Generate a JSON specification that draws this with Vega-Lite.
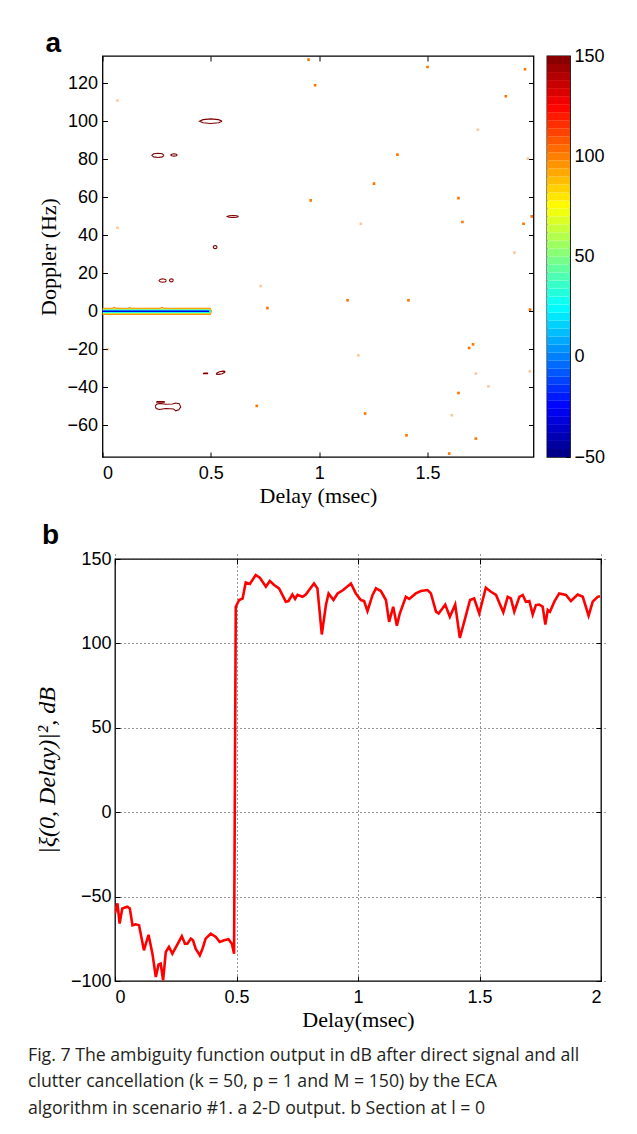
{
  "$schema": "https://vega.github.io/schema/vega-lite/v6.json",
  "background": "white",
  "padding": {"left": 25, "top": 28, "right": 5, "bottom": 5},
  "spacing": 14,
  "title": {
    "text": [
      "Fig. 7 The ambiguity function output in dB after direct signal and all",
      "clutter cancellation (k = 50, p = 1 and M = 150) by the ECA",
      "algorithm in scenario #1. a 2-D output. b Section at l = 0"
    ],
    "orient": "bottom",
    "anchor": "start",
    "frame": "bounds",
    "font": "Open Sans",
    "fontSize": 17.7,
    "fontWeight": "normal",
    "lineHeight": 26.5,
    "color": "#231f20",
    "offset": 16,
    "dx": 3
  },
  "datasets": {
    "spacer": [{"s": 0}],
    "band": [
      {"id": "b100", "i": 0, "delay": 0, "doppler": 1.5, "level": 100},
      {"id": "b100", "i": 1, "delay": 0.045, "doppler": 1.5, "level": 100},
      {"id": "b100", "i": 2, "delay": 0.055, "doppler": 2.0, "level": 100},
      {"id": "b100", "i": 3, "delay": 0.065, "doppler": 1.5, "level": 100},
      {"id": "b100", "i": 4, "delay": 0.115, "doppler": 1.5, "level": 100},
      {"id": "b100", "i": 5, "delay": 0.125, "doppler": 1.9, "level": 100},
      {"id": "b100", "i": 6, "delay": 0.135, "doppler": 1.5, "level": 100},
      {"id": "b100", "i": 7, "delay": 0.265, "doppler": 1.5, "level": 100},
      {"id": "b100", "i": 8, "delay": 0.275, "doppler": 2.1, "level": 100},
      {"id": "b100", "i": 9, "delay": 0.285, "doppler": 1.5, "level": 100},
      {"id": "b100", "i": 10, "delay": 0.497, "doppler": 1.5, "level": 100},
      {"id": "b100", "i": 11, "delay": 0.503, "doppler": 0, "level": 100},
      {"id": "b100", "i": 12, "delay": 0.497, "doppler": -1.6, "level": 100},
      {"id": "b100", "i": 13, "delay": 0, "doppler": -1.6, "level": 100},
      {"id": "b85", "i": 0, "delay": 0, "doppler": 1.15, "level": 85},
      {"id": "b85", "i": 1, "delay": 0.495, "doppler": 1.15, "level": 85},
      {"id": "b85", "i": 2, "delay": 0.5, "doppler": 0, "level": 85},
      {"id": "b85", "i": 3, "delay": 0.495, "doppler": -1.2, "level": 85},
      {"id": "b85", "i": 4, "delay": 0, "doppler": -1.2, "level": 85},
      {"id": "b50", "i": 0, "delay": 0, "doppler": 0.8, "level": 50},
      {"id": "b50", "i": 1, "delay": 0.494, "doppler": 0.8, "level": 50},
      {"id": "b50", "i": 2, "delay": 0.499, "doppler": 0, "level": 50},
      {"id": "b50", "i": 3, "delay": 0.494, "doppler": -0.85, "level": 50},
      {"id": "b50", "i": 4, "delay": 0, "doppler": -0.85, "level": 50},
      {"id": "b25", "i": 0, "delay": 0, "doppler": 0.45, "level": 25},
      {"id": "b25", "i": 1, "delay": 0.493, "doppler": 0.45, "level": 25},
      {"id": "b25", "i": 2, "delay": 0.498, "doppler": 0, "level": 25},
      {"id": "b25", "i": 3, "delay": 0.493, "doppler": -0.5, "level": 25},
      {"id": "b25", "i": 4, "delay": 0, "doppler": -0.5, "level": 25},
      {"id": "bm30", "i": 0, "delay": 0, "doppler": 0.05, "level": -30},
      {"id": "bm30", "i": 1, "delay": 0.49, "doppler": 0.05, "level": -30},
      {"id": "bm30", "i": 2, "delay": 0.49, "doppler": -0.05, "level": -30},
      {"id": "bm30", "i": 3, "delay": 0, "doppler": -0.05, "level": -30}
    ],
    "loops": [
      {"id": "c1", "i": 0, "delay": 0.552, "doppler": 100.1, "level": 150},
      {"id": "c1", "i": 1, "delay": 0.536, "doppler": 100.9, "level": 150},
      {"id": "c1", "i": 2, "delay": 0.5, "doppler": 101.3, "level": 150},
      {"id": "c1", "i": 3, "delay": 0.464, "doppler": 100.9, "level": 150},
      {"id": "c1", "i": 4, "delay": 0.448, "doppler": 100.1, "level": 150},
      {"id": "c1", "i": 5, "delay": 0.464, "doppler": 99.3, "level": 150},
      {"id": "c1", "i": 6, "delay": 0.5, "doppler": 98.9, "level": 150},
      {"id": "c1", "i": 7, "delay": 0.536, "doppler": 99.3, "level": 150},
      {"id": "c1", "i": 8, "delay": 0.552, "doppler": 100.1, "level": 150},
      {"id": "c2", "i": 0, "delay": 0.284, "doppler": 82.1, "level": 150},
      {"id": "c2", "i": 1, "delay": 0.276, "doppler": 82.9, "level": 150},
      {"id": "c2", "i": 2, "delay": 0.256, "doppler": 83.2, "level": 150},
      {"id": "c2", "i": 3, "delay": 0.236, "doppler": 82.9, "level": 150},
      {"id": "c2", "i": 4, "delay": 0.228, "doppler": 82.1, "level": 150},
      {"id": "c2", "i": 5, "delay": 0.236, "doppler": 81.3, "level": 150},
      {"id": "c2", "i": 6, "delay": 0.256, "doppler": 81.0, "level": 150},
      {"id": "c2", "i": 7, "delay": 0.276, "doppler": 81.3, "level": 150},
      {"id": "c2", "i": 8, "delay": 0.284, "doppler": 82.1, "level": 150},
      {"id": "c3", "i": 0, "delay": 0.345, "doppler": 82.3, "level": 150},
      {"id": "c3", "i": 1, "delay": 0.341, "doppler": 82.7, "level": 150},
      {"id": "c3", "i": 2, "delay": 0.33, "doppler": 82.9, "level": 150},
      {"id": "c3", "i": 3, "delay": 0.319, "doppler": 82.7, "level": 150},
      {"id": "c3", "i": 4, "delay": 0.315, "doppler": 82.3, "level": 150},
      {"id": "c3", "i": 5, "delay": 0.319, "doppler": 81.9, "level": 150},
      {"id": "c3", "i": 6, "delay": 0.33, "doppler": 81.7, "level": 150},
      {"id": "c3", "i": 7, "delay": 0.341, "doppler": 81.9, "level": 150},
      {"id": "c3", "i": 8, "delay": 0.345, "doppler": 82.3, "level": 150},
      {"id": "c4", "i": 0, "delay": 0.628, "doppler": 49.9, "level": 150},
      {"id": "c4", "i": 1, "delay": 0.62, "doppler": 50.25, "level": 150},
      {"id": "c4", "i": 2, "delay": 0.602, "doppler": 50.4, "level": 150},
      {"id": "c4", "i": 3, "delay": 0.584, "doppler": 50.25, "level": 150},
      {"id": "c4", "i": 4, "delay": 0.576, "doppler": 49.9, "level": 150},
      {"id": "c4", "i": 5, "delay": 0.584, "doppler": 49.55, "level": 150},
      {"id": "c4", "i": 6, "delay": 0.602, "doppler": 49.4, "level": 150},
      {"id": "c4", "i": 7, "delay": 0.62, "doppler": 49.55, "level": 150},
      {"id": "c4", "i": 8, "delay": 0.628, "doppler": 49.9, "level": 150},
      {"id": "c5", "i": 0, "delay": 0.529, "doppler": 33.8, "level": 150},
      {"id": "c5", "i": 1, "delay": 0.526, "doppler": 34.4, "level": 150},
      {"id": "c5", "i": 2, "delay": 0.52, "doppler": 34.6, "level": 150},
      {"id": "c5", "i": 3, "delay": 0.514, "doppler": 34.4, "level": 150},
      {"id": "c5", "i": 4, "delay": 0.511, "doppler": 33.8, "level": 150},
      {"id": "c5", "i": 5, "delay": 0.514, "doppler": 33.2, "level": 150},
      {"id": "c5", "i": 6, "delay": 0.52, "doppler": 33.0, "level": 150},
      {"id": "c5", "i": 7, "delay": 0.526, "doppler": 33.2, "level": 150},
      {"id": "c5", "i": 8, "delay": 0.529, "doppler": 33.8, "level": 150},
      {"id": "c6", "i": 0, "delay": 0.295, "doppler": 16.2, "level": 150},
      {"id": "c6", "i": 1, "delay": 0.29, "doppler": 16.8, "level": 150},
      {"id": "c6", "i": 2, "delay": 0.278, "doppler": 17.1, "level": 150},
      {"id": "c6", "i": 3, "delay": 0.266, "doppler": 16.8, "level": 150},
      {"id": "c6", "i": 4, "delay": 0.261, "doppler": 16.2, "level": 150},
      {"id": "c6", "i": 5, "delay": 0.266, "doppler": 15.6, "level": 150},
      {"id": "c6", "i": 6, "delay": 0.278, "doppler": 15.3, "level": 150},
      {"id": "c6", "i": 7, "delay": 0.29, "doppler": 15.6, "level": 150},
      {"id": "c6", "i": 8, "delay": 0.295, "doppler": 16.2, "level": 150},
      {"id": "c7", "i": 0, "delay": 0.327, "doppler": 16.3, "level": 150},
      {"id": "c7", "i": 1, "delay": 0.324, "doppler": 16.9, "level": 150},
      {"id": "c7", "i": 2, "delay": 0.318, "doppler": 17.1, "level": 150},
      {"id": "c7", "i": 3, "delay": 0.312, "doppler": 16.9, "level": 150},
      {"id": "c7", "i": 4, "delay": 0.309, "doppler": 16.3, "level": 150},
      {"id": "c7", "i": 5, "delay": 0.312, "doppler": 15.7, "level": 150},
      {"id": "c7", "i": 6, "delay": 0.318, "doppler": 15.5, "level": 150},
      {"id": "c7", "i": 7, "delay": 0.324, "doppler": 15.7, "level": 150},
      {"id": "c7", "i": 8, "delay": 0.327, "doppler": 16.3, "level": 150},
      {"id": "c8", "i": 0, "delay": 0.466, "doppler": -32.5, "level": 150},
      {"id": "c8", "i": 1, "delay": 0.485, "doppler": -32.5, "level": 150},
      {"id": "c8", "i": 2, "delay": 0.485, "doppler": -32.8, "level": 150},
      {"id": "c8", "i": 3, "delay": 0.466, "doppler": -32.8, "level": 150},
      {"id": "c8", "i": 4, "delay": 0.466, "doppler": -32.5, "level": 150},
      {"id": "c9", "i": 0, "delay": 0.566, "doppler": -31.6, "level": 150},
      {"id": "c9", "i": 1, "delay": 0.556, "doppler": -31.5, "level": 150},
      {"id": "c9", "i": 2, "delay": 0.54, "doppler": -31.8, "level": 150},
      {"id": "c9", "i": 3, "delay": 0.527, "doppler": -32.6, "level": 150},
      {"id": "c9", "i": 4, "delay": 0.526, "doppler": -33.1, "level": 150},
      {"id": "c9", "i": 5, "delay": 0.538, "doppler": -33.2, "level": 150},
      {"id": "c9", "i": 6, "delay": 0.552, "doppler": -32.9, "level": 150},
      {"id": "c9", "i": 7, "delay": 0.564, "doppler": -32.1, "level": 150},
      {"id": "c9", "i": 8, "delay": 0.566, "doppler": -31.6, "level": 150},
      {"id": "c10", "i": 0, "delay": 0.243, "doppler": -50.0, "level": 150},
      {"id": "c10", "i": 1, "delay": 0.25, "doppler": -48.9, "level": 150},
      {"id": "c10", "i": 2, "delay": 0.265, "doppler": -48.5, "level": 150},
      {"id": "c10", "i": 3, "delay": 0.292, "doppler": -48.9, "level": 150},
      {"id": "c10", "i": 4, "delay": 0.323, "doppler": -48.8, "level": 150},
      {"id": "c10", "i": 5, "delay": 0.338, "doppler": -48.3, "level": 150},
      {"id": "c10", "i": 6, "delay": 0.354, "doppler": -48.6, "level": 150},
      {"id": "c10", "i": 7, "delay": 0.361, "doppler": -50.3, "level": 150},
      {"id": "c10", "i": 8, "delay": 0.352, "doppler": -51.8, "level": 150},
      {"id": "c10", "i": 9, "delay": 0.338, "doppler": -52.4, "level": 150},
      {"id": "c10", "i": 10, "delay": 0.328, "doppler": -51.4, "level": 150},
      {"id": "c10", "i": 11, "delay": 0.292, "doppler": -51.2, "level": 150},
      {"id": "c10", "i": 12, "delay": 0.262, "doppler": -51.7, "level": 150},
      {"id": "c10", "i": 13, "delay": 0.248, "doppler": -51.2, "level": 150},
      {"id": "c10", "i": 14, "delay": 0.243, "doppler": -50.0, "level": 150},
      {"id": "c11", "i": 0, "delay": 0.25, "doppler": -47.5, "level": 150},
      {"id": "c11", "i": 1, "delay": 0.285, "doppler": -47.5, "level": 150},
      {"id": "c11", "i": 2, "delay": 0.285, "doppler": -47.8, "level": 150},
      {"id": "c11", "i": 3, "delay": 0.25, "doppler": -47.8, "level": 150},
      {"id": "c11", "i": 4, "delay": 0.25, "doppler": -47.5, "level": 150}
    ],
    "dots": [
      {"delay": 0.069, "doppler": 111.0, "strength": "weak", "level": 102},
      {"delay": 0.069, "doppler": 44.0, "strength": "weak", "level": 102},
      {"delay": 0.951, "doppler": 132.5, "strength": "strong", "level": 102},
      {"delay": 0.981, "doppler": 119.0, "strength": "strong", "level": 102},
      {"delay": 0.961, "doppler": 58.4, "strength": "strong", "level": 102},
      {"delay": 0.73, "doppler": 13.3, "strength": "weak", "level": 102},
      {"delay": 0.761, "doppler": 1.7, "strength": "strong", "level": 102},
      {"delay": 0.023, "doppler": -20.0, "strength": "weak", "level": 102},
      {"delay": 0.712, "doppler": -49.8, "strength": "strong", "level": 102},
      {"delay": 1.5, "doppler": 128.6, "strength": "strong", "level": 102},
      {"delay": 1.95, "doppler": 127.4, "strength": "strong", "level": 102},
      {"delay": 1.861, "doppler": 113.2, "strength": "strong", "level": 102},
      {"delay": 1.732, "doppler": 95.6, "strength": "weak", "level": 102},
      {"delay": 1.361, "doppler": 82.5, "strength": "strong", "level": 102},
      {"delay": 1.963, "doppler": 80.4, "strength": "weak", "level": 102},
      {"delay": 1.253, "doppler": 67.2, "strength": "strong", "level": 102},
      {"delay": 1.643, "doppler": 59.6, "strength": "strong", "level": 102},
      {"delay": 1.661, "doppler": 47.0, "strength": "strong", "level": 102},
      {"delay": 1.943, "doppler": 46.1, "strength": "strong", "level": 102},
      {"delay": 1.981, "doppler": 50.0, "strength": "strong", "level": 102},
      {"delay": 1.192, "doppler": 46.1, "strength": "weak", "level": 102},
      {"delay": 1.901, "doppler": 30.9, "strength": "weak", "level": 102},
      {"delay": 1.131, "doppler": 5.8, "strength": "strong", "level": 102},
      {"delay": 1.412, "doppler": 5.8, "strength": "strong", "level": 102},
      {"delay": 1.973, "doppler": 0.9, "strength": "strong", "level": 102},
      {"delay": 1.71, "doppler": -17.4, "strength": "strong", "level": 102},
      {"delay": 1.692, "doppler": -19.3, "strength": "strong", "level": 102},
      {"delay": 1.181, "doppler": -23.2, "strength": "weak", "level": 102},
      {"delay": 1.972, "doppler": -31.6, "strength": "weak", "level": 102},
      {"delay": 1.723, "doppler": -32.8, "strength": "weak", "level": 102},
      {"delay": 1.781, "doppler": -39.5, "strength": "weak", "level": 102},
      {"delay": 1.643, "doppler": -43.0, "strength": "strong", "level": 102},
      {"delay": 1.212, "doppler": -53.8, "strength": "strong", "level": 102},
      {"delay": 1.612, "doppler": -54.7, "strength": "weak", "level": 102},
      {"delay": 1.403, "doppler": -65.3, "strength": "strong", "level": 102},
      {"delay": 1.723, "doppler": -67.0, "strength": "strong", "level": 102},
      {"delay": 1.6, "doppler": -74.9, "strength": "strong", "level": 102}
    ],
    "colorbar": [
      {"lo": -50, "hi": -46, "mid": -48}, {"lo": -46, "hi": -42, "mid": -44}, {"lo": -42, "hi": -38, "mid": -40},
      {"lo": -38, "hi": -34, "mid": -36}, {"lo": -34, "hi": -30, "mid": -32}, {"lo": -30, "hi": -26, "mid": -28},
      {"lo": -26, "hi": -22, "mid": -24}, {"lo": -22, "hi": -18, "mid": -20}, {"lo": -18, "hi": -14, "mid": -16},
      {"lo": -14, "hi": -10, "mid": -12}, {"lo": -10, "hi": -6, "mid": -8}, {"lo": -6, "hi": -2, "mid": -4},
      {"lo": -2, "hi": 2, "mid": 0}, {"lo": 2, "hi": 6, "mid": 4}, {"lo": 6, "hi": 10, "mid": 8},
      {"lo": 10, "hi": 14, "mid": 12}, {"lo": 14, "hi": 18, "mid": 16}, {"lo": 18, "hi": 22, "mid": 20},
      {"lo": 22, "hi": 26, "mid": 24}, {"lo": 26, "hi": 30, "mid": 28}, {"lo": 30, "hi": 34, "mid": 32},
      {"lo": 34, "hi": 38, "mid": 36}, {"lo": 38, "hi": 42, "mid": 40}, {"lo": 42, "hi": 46, "mid": 44},
      {"lo": 46, "hi": 50, "mid": 48}, {"lo": 50, "hi": 54, "mid": 52}, {"lo": 54, "hi": 58, "mid": 56},
      {"lo": 58, "hi": 62, "mid": 60}, {"lo": 62, "hi": 66, "mid": 64}, {"lo": 66, "hi": 70, "mid": 68},
      {"lo": 70, "hi": 74, "mid": 72}, {"lo": 74, "hi": 78, "mid": 76}, {"lo": 78, "hi": 82, "mid": 80},
      {"lo": 82, "hi": 86, "mid": 84}, {"lo": 86, "hi": 90, "mid": 88}, {"lo": 90, "hi": 94, "mid": 92},
      {"lo": 94, "hi": 98, "mid": 96}, {"lo": 98, "hi": 102, "mid": 100}, {"lo": 102, "hi": 106, "mid": 104},
      {"lo": 106, "hi": 110, "mid": 108}, {"lo": 110, "hi": 114, "mid": 112}, {"lo": 114, "hi": 118, "mid": 116},
      {"lo": 118, "hi": 122, "mid": 120}, {"lo": 122, "hi": 126, "mid": 124}, {"lo": 126, "hi": 130, "mid": 128},
      {"lo": 130, "hi": 134, "mid": 132}, {"lo": 134, "hi": 138, "mid": 136}, {"lo": 138, "hi": 142, "mid": 140},
      {"lo": 142, "hi": 146, "mid": 144}, {"lo": 146, "hi": 150, "mid": 148}
    ],
    "curve": [
      {"delay": 0.0, "db": -60.0},
      {"delay": 0.01, "db": -54.0},
      {"delay": 0.019, "db": -66.0},
      {"delay": 0.03, "db": -57.0},
      {"delay": 0.051, "db": -56.0},
      {"delay": 0.061, "db": -57.0},
      {"delay": 0.072, "db": -67.0},
      {"delay": 0.085, "db": -66.4},
      {"delay": 0.099, "db": -67.0},
      {"delay": 0.119, "db": -81.8},
      {"delay": 0.138, "db": -72.6},
      {"delay": 0.154, "db": -83.8},
      {"delay": 0.168, "db": -97.6},
      {"delay": 0.179, "db": -90.3},
      {"delay": 0.188, "db": -89.7},
      {"delay": 0.198, "db": -99.6},
      {"delay": 0.209, "db": -82.8},
      {"delay": 0.222, "db": -79.8},
      {"delay": 0.236, "db": -83.8},
      {"delay": 0.253, "db": -79.3},
      {"delay": 0.275, "db": -73.5},
      {"delay": 0.288, "db": -77.9},
      {"delay": 0.298, "db": -77.9},
      {"delay": 0.312, "db": -74.9},
      {"delay": 0.321, "db": -75.9},
      {"delay": 0.332, "db": -80.9},
      {"delay": 0.349, "db": -84.8},
      {"delay": 0.36, "db": -80.9},
      {"delay": 0.373, "db": -74.9},
      {"delay": 0.394, "db": -72.0},
      {"delay": 0.415, "db": -73.9},
      {"delay": 0.431, "db": -76.9},
      {"delay": 0.449, "db": -75.9},
      {"delay": 0.467, "db": -75.3},
      {"delay": 0.481, "db": -77.9},
      {"delay": 0.49, "db": -83.8},
      {"delay": 0.497, "db": 121.7},
      {"delay": 0.511, "db": 125.7},
      {"delay": 0.525, "db": 126.6},
      {"delay": 0.538, "db": 136.1},
      {"delay": 0.555, "db": 135.2},
      {"delay": 0.579, "db": 140.5},
      {"delay": 0.596, "db": 138.9},
      {"delay": 0.621, "db": 133.6},
      {"delay": 0.637, "db": 137.0},
      {"delay": 0.655, "db": 134.6},
      {"delay": 0.675, "db": 132.6},
      {"delay": 0.703, "db": 124.7},
      {"delay": 0.714, "db": 125.1},
      {"delay": 0.73, "db": 129.0},
      {"delay": 0.741, "db": 126.3},
      {"delay": 0.751, "db": 128.7},
      {"delay": 0.772, "db": 127.6},
      {"delay": 0.785, "db": 129.0},
      {"delay": 0.819, "db": 135.5},
      {"delay": 0.833, "db": 132.6},
      {"delay": 0.851, "db": 105.3},
      {"delay": 0.868, "db": 122.7},
      {"delay": 0.879, "db": 129.6},
      {"delay": 0.899, "db": 125.7},
      {"delay": 0.916, "db": 129.6},
      {"delay": 0.939, "db": 131.6},
      {"delay": 0.971, "db": 135.5},
      {"delay": 0.991, "db": 129.6},
      {"delay": 1.012, "db": 125.7},
      {"delay": 1.025, "db": 125.1},
      {"delay": 1.039, "db": 119.2},
      {"delay": 1.06, "db": 128.7},
      {"delay": 1.074, "db": 132.6},
      {"delay": 1.094, "db": 131.0},
      {"delay": 1.115, "db": 125.7},
      {"delay": 1.128, "db": 112.8},
      {"delay": 1.145, "db": 121.7},
      {"delay": 1.16, "db": 110.5},
      {"delay": 1.172, "db": 117.7},
      {"delay": 1.197, "db": 127.6},
      {"delay": 1.211, "db": 126.3},
      {"delay": 1.238, "db": 129.6},
      {"delay": 1.259, "db": 131.0},
      {"delay": 1.286, "db": 131.6},
      {"delay": 1.3, "db": 129.6},
      {"delay": 1.321, "db": 118.8},
      {"delay": 1.332, "db": 117.7},
      {"delay": 1.359, "db": 123.0},
      {"delay": 1.378, "db": 115.8},
      {"delay": 1.4, "db": 123.0},
      {"delay": 1.419, "db": 103.3},
      {"delay": 1.437, "db": 112.8},
      {"delay": 1.461, "db": 125.7},
      {"delay": 1.478, "db": 126.6},
      {"delay": 1.499, "db": 117.7},
      {"delay": 1.526, "db": 133.0},
      {"delay": 1.547, "db": 130.6},
      {"delay": 1.568, "db": 128.7},
      {"delay": 1.598, "db": 118.4},
      {"delay": 1.616, "db": 127.6},
      {"delay": 1.629, "db": 126.6},
      {"delay": 1.643, "db": 118.8},
      {"delay": 1.664, "db": 127.6},
      {"delay": 1.678, "db": 128.7},
      {"delay": 1.691, "db": 124.7},
      {"delay": 1.705, "db": 125.1},
      {"delay": 1.719, "db": 117.1},
      {"delay": 1.732, "db": 122.7},
      {"delay": 1.746, "db": 123.0},
      {"delay": 1.76, "db": 121.7},
      {"delay": 1.771, "db": 111.2},
      {"delay": 1.781, "db": 119.8},
      {"delay": 1.79, "db": 118.8},
      {"delay": 1.808, "db": 124.7},
      {"delay": 1.828, "db": 129.6},
      {"delay": 1.856, "db": 128.7},
      {"delay": 1.876, "db": 125.1},
      {"delay": 1.904, "db": 129.0},
      {"delay": 1.925, "db": 127.6},
      {"delay": 1.949, "db": 116.4},
      {"delay": 1.966, "db": 124.7},
      {"delay": 1.986, "db": 127.6},
      {"delay": 1.996, "db": 128.0}
    ]
  },
  "vconcat": [
    {
      "spacing": 9.5,
      "hconcat": [
        {
          "width": 2,
          "height": 2,
          "view": {"stroke": null},
          "data": {"name": "spacer"},
          "mark": {"type": "point", "opacity": 0, "size": 0},
          "encoding": {}
        },
        {
          "width": 431,
          "height": 401,
          "title": {"text": "a", "anchor": "start", "frame": "group", "dx": -57, "offset": -2, "font": "Liberation Sans", "fontSize": 28, "fontWeight": "bold", "color": "black"},
          "layer": [
            {
              "data": {"name": "band"},
              "mark": {"type": "line", "strokeWidth": 1.2, "clip": true},
              "encoding": {
                "x": {"field": "delay", "type": "quantitative", "scale": {"domain": [0, 1.989], "nice": false, "zero": false},
                      "axis": {"values": [0, 0.5, 1, 1.5], "format": "~g", "title": "Delay (msec)", "labelPadding": 7, "titlePadding": 3}},
                "y": {"field": "doppler", "type": "quantitative", "scale": {"domain": [-76.7, 134.4], "nice": false, "zero": false},
                      "axis": {"values": [-60, -40, -20, 0, 20, 40, 60, 80, 100, 120], "format": "d", "title": "Doppler (Hz)", "labelPadding": 5, "titlePadding": 6}},
                "color": {"field": "level", "type": "quantitative",
                          "scale": {"type": "linear", "domain": [-50, -25, 25, 75, 125, 150], "range": ["#000080", "#0000ff", "#00ffff", "#ffff00", "#ff0000", "#800000"], "interpolate": "rgb"},
                          "legend": null},
                "detail": {"field": "id"},
                "order": {"field": "i"}
              }
            },
            {
              "data": {"name": "loops"},
              "mark": {"type": "line", "strokeWidth": 1.1, "clip": true},
              "encoding": {
                "x": {"field": "delay", "type": "quantitative", "scale": {"domain": [0, 1.989], "nice": false, "zero": false}, "axis": null},
                "y": {"field": "doppler", "type": "quantitative", "scale": {"domain": [-76.7, 134.4], "nice": false, "zero": false}, "axis": null},
                "color": {"field": "level", "type": "quantitative", "legend": null},
                "detail": {"field": "id"},
                "order": {"field": "i"}
              }
            },
            {
              "data": {"name": "dots"},
              "mark": {"type": "square", "size": 7, "clip": true},
              "encoding": {
                "x": {"field": "delay", "type": "quantitative", "scale": {"domain": [0, 1.989], "nice": false, "zero": false}, "axis": null},
                "y": {"field": "doppler", "type": "quantitative", "scale": {"domain": [-76.7, 134.4], "nice": false, "zero": false}, "axis": null},
                "color": {"field": "level", "type": "quantitative", "legend": null},
                "opacity": {"field": "strength", "type": "nominal", "scale": {"domain": ["strong", "weak"], "range": [1, 0.4]}, "legend": null}
              }
            },
            {
              "data": {"name": "dots"},
              "mark": {"type": "point", "opacity": 0, "size": 0},
              "encoding": {
                "x": {"field": "delay", "type": "quantitative", "scale": {"domain": [0, 1.989], "nice": false, "zero": false},
                      "axis": {"orient": "top", "values": [0, 0.5, 1, 1.5], "labels": false, "title": null}},
                "y": {"field": "doppler", "type": "quantitative", "scale": {"domain": [-76.7, 134.4], "nice": false, "zero": false},
                      "axis": {"orient": "right", "values": [-60, -40, -20, 0, 20, 40, 60, 80, 100, 120], "labels": false, "title": null}}
              }
            }
          ],
          "resolve": {"axis": {"x": "independent", "y": "independent"}}
        },
        {
          "width": 23,
          "height": 401,
          "data": {"name": "colorbar"},
          "layer": [
            {
              "mark": {"type": "rect"},
              "encoding": {
                "x": {"datum": 0, "type": "quantitative", "scale": {"domain": [0, 1], "nice": false, "zero": false}, "axis": null},
                "x2": {"datum": 1},
                "y": {"field": "lo", "type": "quantitative", "scale": {"domain": [-50, 150], "nice": false, "zero": false},
                      "axis": {"orient": "right", "values": [-50, 0, 50, 100, 150], "format": "d", "title": null, "labelPadding": 4, "tickSize": 4, "offset": -4}},
                "y2": {"field": "hi"},
                "color": {"field": "mid", "type": "quantitative",
                          "scale": {"type": "linear", "domain": [-50, -25, 25, 75, 125, 150], "range": ["#000080", "#0000ff", "#00ffff", "#ffff00", "#ff0000", "#800000"], "interpolate": "rgb"},
                          "legend": null}
              }
            },
            {
              "mark": {"type": "point", "opacity": 0, "size": 0},
              "encoding": {
                "x": {"datum": 0.5, "type": "quantitative", "scale": {"domain": [0, 1], "nice": false, "zero": false}, "axis": null},
                "y": {"field": "lo", "type": "quantitative", "scale": {"domain": [-50, 150], "nice": false, "zero": false},
                      "axis": {"orient": "left", "values": [0, 50, 100], "labels": false, "title": null, "tickSize": 4, "offset": -4}}
              }
            }
          ],
          "resolve": {"axis": {"y": "independent"}}
        }
      ]
    },
    {
      "spacing": 8,
      "hconcat": [
        {
          "width": 2,
          "height": 2,
          "view": {"stroke": null},
          "data": {"name": "spacer"},
          "mark": {"type": "point", "opacity": 0, "size": 0},
          "encoding": {}
        },
        {
          "width": 486,
          "height": 422,
          "title": {"text": "b", "anchor": "start", "frame": "group", "dx": -73, "offset": 0, "font": "Liberation Sans", "fontSize": 28, "fontWeight": "bold", "color": "black"},
          "data": {"name": "curve"},
          "layer": [
            {
              "mark": {"type": "line", "color": "#ff0000", "strokeWidth": 2.6, "clip": true},
              "encoding": {
                "x": {"field": "delay", "type": "quantitative", "scale": {"domain": [0, 2], "nice": false, "zero": false},
                      "axis": {"values": [0, 0.5, 1, 1.5, 2], "format": "~g", "title": "Delay(msec)", "grid": true, "gridDash": [1, 3], "gridColor": "#333333", "gridWidth": 1, "labelPadding": 7, "titlePadding": 3}},
                "y": {"field": "db", "type": "quantitative", "scale": {"domain": [-100, 150], "nice": false, "zero": false},
                      "axis": {"values": [-100, -50, 0, 50, 100, 150], "format": "d", "title": "|ξ(0, Delay)|², dB", "titleFontStyle": "italic", "titleFontSize": 24, "grid": true, "gridDash": [1, 3], "gridColor": "#333333", "gridWidth": 1, "labelPadding": 4, "titlePadding": 10.5}}
              }
            },
            {
              "mark": {"type": "point", "opacity": 0, "size": 0},
              "encoding": {
                "x": {"field": "delay", "type": "quantitative", "scale": {"domain": [0, 2], "nice": false, "zero": false},
                      "axis": {"orient": "top", "values": [0, 0.5, 1, 1.5, 2], "labels": false, "title": null}},
                "y": {"field": "db", "type": "quantitative", "scale": {"domain": [-100, 150], "nice": false, "zero": false},
                      "axis": {"orient": "right", "values": [-100, -50, 0, 50, 100, 150], "labels": false, "title": null}}
              }
            }
          ],
          "resolve": {"axis": {"x": "independent", "y": "independent"}}
        }
      ]
    }
  ],
  "config": {
    "view": {"stroke": "black", "strokeWidth": 1.3},
    "axis": {
      "domain": false,
      "grid": false,
      "ticks": true,
      "tickColor": "black",
      "tickSize": 5,
      "offset": -5,
      "tickWidth": 1,
      "labelFont": "Liberation Sans",
      "labelFontSize": 18,
      "labelColor": "black",
      "titleFont": "Liberation Serif",
      "titleFontSize": 22,
      "titleFontWeight": "normal",
      "titleColor": "black"
    }
  }
}
